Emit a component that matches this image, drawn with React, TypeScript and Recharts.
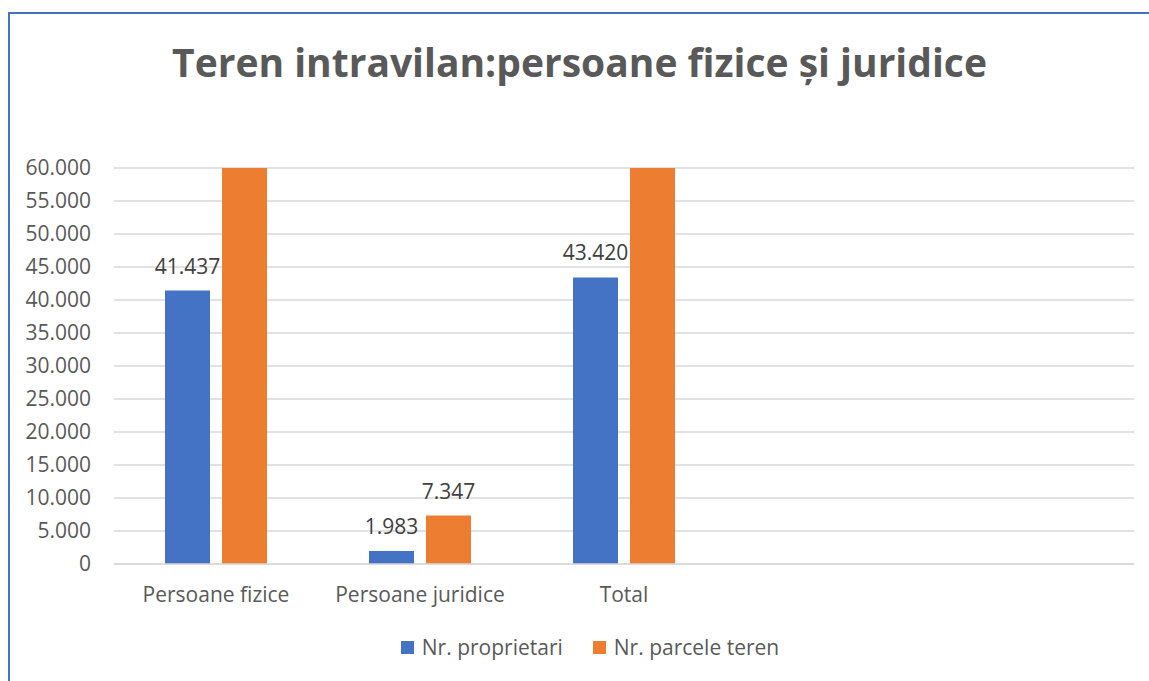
import { BarChart, Bar, XAxis, YAxis, CartesianGrid, Legend, LabelList } from "recharts"

const categories = ["Persoane fizice", "Persoane juridice", "Total", "", ""]
const proprietari = [41437, 1983, 43420, null, null]
// parcel counts for fizice and Total run off the top of the chart, so they are estimates
const parcele = [92516, 7347, 99863, null, null]
const yTicks = [0, 5000, 10000, 15000, 20000, 25000, 30000, 35000, 40000, 45000, 50000, 55000, 60000]

const BLUE = "#4472C4"
const ORANGE = "#ED7D31"
const TEXT = "#595959"
const FONT = "'Open Sans', sans-serif"
const Y_MAX = 60000

const data = categories.map((name, i) => ({
  name,
  proprietari: proprietari[i],
  parcele: parcele[i],
}))

const fmt = (v: number) => String(v).replace(/\B(?=(\d{3})+(?!\d))/g, ".")
const labelFmt = (v: any) => (v == null || v > Y_MAX ? "" : fmt(v))

const legendItems = [
  { label: "Nr. proprietari", color: BLUE },
  { label: "Nr. parcele teren", color: ORANGE },
]

function LegendBox() {
  return (
    <div style={{ display: "flex", justifyContent: "center", alignItems: "center", height: 30, paddingLeft: 36, fontFamily: FONT, fontSize: 21, color: TEXT }}>
      {legendItems.map((it, i) => (
        <div key={it.label} style={{ display: "flex", alignItems: "center", marginLeft: i ? 30 : 0 }}>
          <span style={{ width: 13, height: 13, background: it.color, marginRight: 8, display: "inline-block" }} />
          <span>{it.label}</span>
        </div>
      ))}
    </div>
  )
}

export default function App() {
  return (
    <div
      style={{
        position: "absolute",
        left: 8,
        top: 12,
        width: 1141,
        height: 669,
        borderLeft: `2px solid ${BLUE}`,
        borderTop: `2px solid ${BLUE}`,
        boxSizing: "border-box",
        background: "#fff",
      }}
    >
      <div
        style={{
          position: "absolute",
          left: 0,
          right: 0,
          top: 23,
          textAlign: "center",
          fontFamily: FONT,
          fontWeight: 700,
          fontSize: 39,
          lineHeight: "50px",
          color: TEXT,
        }}
      >
        Teren intravilan:persoane fizice și juridice
      </div>
      <BarChart
        width={1139}
        height={667}
        data={data}
        margin={{ top: 154, right: 15, bottom: 19, left: 0 }}
        barSize={45}
        barGap={12}
      >
        <CartesianGrid vertical={false} stroke="#D9D9D9" strokeWidth={1.5} />
        <XAxis
          dataKey="name"
          height={68}
          axisLine={{ stroke: "#D9D9D9", strokeWidth: 1.5 }}
          tickLine={false}
          tickSize={0}
          tickMargin={23}
          interval={0}
          tick={{ fill: TEXT, fontSize: 21, fontFamily: FONT }}
        />
        <YAxis
          width={104}
          domain={[0, Y_MAX]}
          ticks={yTicks}
          allowDataOverflow
          axisLine={false}
          tickLine={false}
          tickSize={0}
          tickMargin={23}
          tickFormatter={fmt}
          tick={{ fill: TEXT, fontSize: 21, fontFamily: FONT }}
        />
        <Legend verticalAlign="bottom" content={() => <LegendBox />} />
        <Bar dataKey="proprietari" name="Nr. proprietari" fill={BLUE} isAnimationActive={false}>
          <LabelList dataKey="proprietari" position="top" offset={17} formatter={labelFmt} fill="#404040" fontSize={21} fontFamily={FONT} />
        </Bar>
        <Bar dataKey="parcele" name="Nr. parcele teren" fill={ORANGE} isAnimationActive={false}>
          <LabelList dataKey="parcele" position="top" offset={17} formatter={labelFmt} fill="#404040" fontSize={21} fontFamily={FONT} />
        </Bar>
      </BarChart>
    </div>
  )
}
